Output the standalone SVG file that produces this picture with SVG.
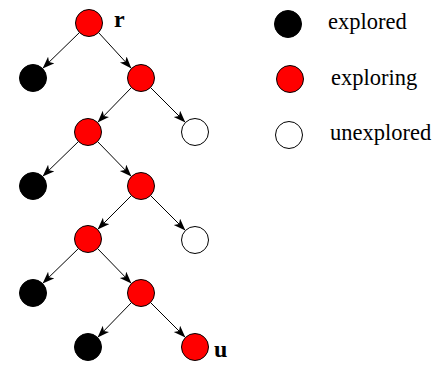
<svg xmlns="http://www.w3.org/2000/svg" width="438" height="367" viewBox="0 0 438 367">
  <style>
    .node { stroke: #000; stroke-width: 1; }
    .explored { fill: #000; }
    .exploring { fill: #ff0000; }
    .unexplored { fill: #fff; }
    .edge { stroke: #000; stroke-width: 1; fill: none; marker-end: url(#arrow); }
    .label { font-family: "Liberation Serif", "Times New Roman", serif; font-size: 22.5px; fill: #000; }
    .tag { font-family: "Liberation Serif", "Times New Roman", serif; font-size: 24px; font-weight: bold; fill: #000; }
  </style>
  <defs>
    <marker id="arrow" markerUnits="userSpaceOnUse" markerWidth="13" markerHeight="10" refX="12" refY="4.5" orient="auto">
      <path d="M0,0 L12,4.5 L0,9 L3,4.5 z" fill="#000"/>
    </marker>
  </defs>

  <!-- connectors -->
  <g id="edges">
    <line class="edge" x1="79.4" y1="32.6" x2="42.6" y2="68.4"/>
    <line class="edge" x1="98.6" y1="32.6" x2="131.4" y2="68.4"/>
    <line class="edge" x1="131.4" y1="87.6" x2="97.6" y2="122.4"/>
    <line class="edge" x1="150.6" y1="87.6" x2="185.4" y2="122.4"/>
    <line class="edge" x1="78.4" y1="141.6" x2="42.6" y2="176.4"/>
    <line class="edge" x1="97.6" y1="141.6" x2="131.4" y2="176.4"/>
    <line class="edge" x1="131.4" y1="195.6" x2="97.6" y2="229.4"/>
    <line class="edge" x1="150.6" y1="195.6" x2="185.4" y2="230.4"/>
    <line class="edge" x1="78.4" y1="248.6" x2="42.6" y2="283.4"/>
    <line class="edge" x1="97.6" y1="248.6" x2="131.4" y2="283.4"/>
    <line class="edge" x1="131.4" y1="302.6" x2="97.6" y2="337.4"/>
    <line class="edge" x1="150.6" y1="302.6" x2="185.4" y2="337.4"/>
  </g>

  <!-- tree nodes -->
  <g id="n-r"><circle class="node exploring" cx="89" cy="23" r="13.5"/><text class="tag" x="114" y="27">r</text></g>
  <g id="n-1"><circle class="node explored" cx="33" cy="78" r="13.5"/></g>
  <g id="n-2"><circle class="node exploring" cx="141" cy="78" r="13.5"/></g>
  <g id="n-3"><circle class="node exploring" cx="88" cy="132" r="13.5"/></g>
  <g id="n-4"><circle class="node unexplored" cx="195" cy="132" r="13.5"/></g>
  <g id="n-5"><circle class="node explored" cx="33" cy="186" r="13.5"/></g>
  <g id="n-6"><circle class="node exploring" cx="141" cy="186" r="13.5"/></g>
  <g id="n-7"><circle class="node exploring" cx="88" cy="239" r="13.5"/></g>
  <g id="n-8"><circle class="node unexplored" cx="195" cy="240" r="13.5"/></g>
  <g id="n-9"><circle class="node explored" cx="33" cy="293" r="13.5"/></g>
  <g id="n-10"><circle class="node exploring" cx="141" cy="293" r="13.5"/></g>
  <g id="n-11"><circle class="node explored" cx="88" cy="347" r="13.5"/></g>
  <g id="n-u"><circle class="node exploring" cx="195" cy="347" r="13.5"/><text class="tag" x="214" y="357">u</text></g>

  <!-- legend -->
  <g id="legend-explored"><circle class="node explored" cx="288" cy="24" r="13.5"/><text class="label" x="328" y="29">explored</text></g>
  <g id="legend-exploring"><circle class="node exploring" cx="290" cy="79" r="13.5"/><text class="label" x="331" y="85">exploring</text></g>
  <g id="legend-unexplored"><circle class="node unexplored" cx="289" cy="135" r="13.5"/><text class="label" x="330" y="140">unexplored</text></g>
</svg>
